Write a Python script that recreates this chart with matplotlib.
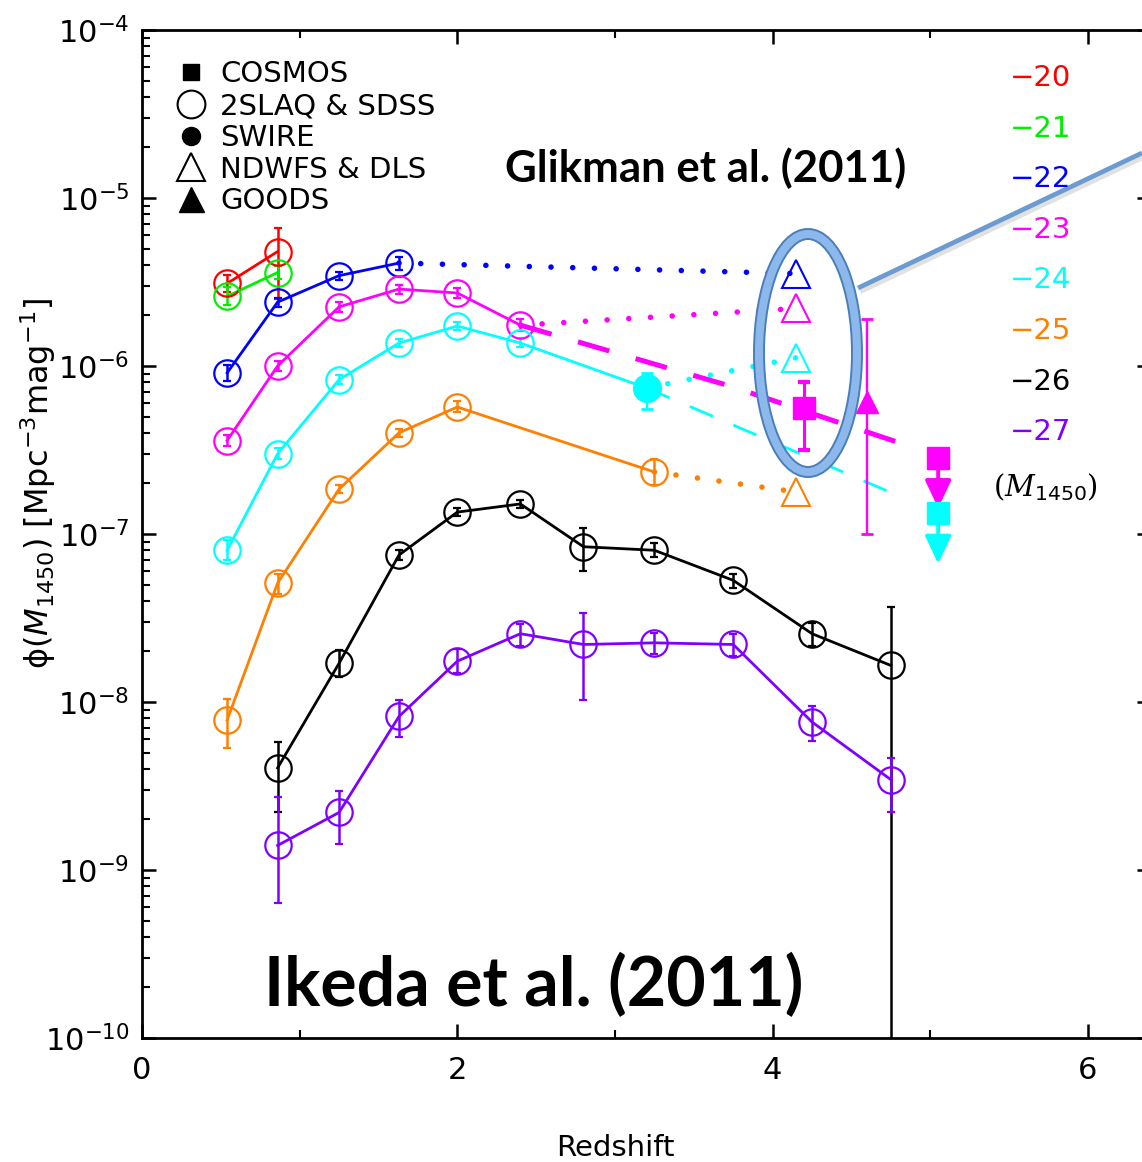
import numpy as np
import matplotlib
matplotlib.use("Agg")
import matplotlib.pyplot as plt
from matplotlib.lines import Line2D
from matplotlib.patches import Ellipse
from matplotlib.ticker import MultipleLocator, LogLocator, NullFormatter

# Ikeda et al. (2011) binned QSO luminosity function, one series per M1450
z_m20 = [0.54, 0.86]
phi_m20 = [3.1e-6, 4.8e-6]
lo_m20 = [2.75e-6, 2.5e-6]
hi_m20 = [3.5e-6, 6.6e-6]

z_m21 = [0.54, 0.86]
phi_m21 = [2.6e-6, 3.6e-6]
lo_m21 = [2.3e-6, 3.3e-6]
hi_m21 = [2.95e-6, 3.95e-6]

z_m22 = [0.54, 0.86, 1.25, 1.63]
phi_m22 = [9.1e-7, 2.4e-6, 3.45e-6, 4.1e-6]
lo_m22 = [8.1e-7, 2.25e-6, 3.25e-6, 3.75e-6]
hi_m22 = [1.02e-6, 2.55e-6, 3.65e-6, 4.45e-6]

z_m23 = [0.54, 0.86, 1.25, 1.63, 2.0, 2.4]
phi_m23 = [3.6e-7, 1.0e-6, 2.25e-6, 2.87e-6, 2.72e-6, 1.75e-6]
lo_m23 = [3.35e-7, 9.3e-7, 2.1e-6, 2.7e-6, 2.55e-6, 1.62e-6]
hi_m23 = [3.9e-7, 1.07e-6, 2.4e-6, 3.05e-6, 2.9e-6, 1.9e-6]

z_m24 = [0.54, 0.86, 1.25, 1.63, 2.0, 2.4]
phi_m24 = [8.0e-8, 3.0e-7, 8.3e-7, 1.37e-6, 1.73e-6, 1.37e-6]
lo_m24 = [7.0e-8, 2.8e-7, 7.8e-7, 1.3e-6, 1.64e-6, 1.29e-6]
hi_m24 = [9.2e-8, 3.25e-7, 8.8e-7, 1.45e-6, 1.83e-6, 1.46e-6]

z_m25 = [0.54, 0.86, 1.25, 1.63, 2.0, 3.25]
phi_m25 = [7.8e-9, 5.1e-8, 1.85e-7, 4.0e-7, 5.7e-7, 2.34e-7]
lo_m25 = [5.3e-9, 4.4e-8, 1.75e-7, 3.8e-7, 5.3e-7, 1.95e-7]
hi_m25 = [1.04e-8, 5.8e-8, 1.96e-7, 4.2e-7, 6.15e-7, 2.8e-7]

z_m26 = [0.86, 1.25, 1.63, 2.0, 2.4, 2.8, 3.25, 3.75, 4.25, 4.75]
phi_m26 = [4.05e-9, 1.7e-8, 7.5e-8, 1.35e-7, 1.51e-7, 8.4e-8, 8.0e-8, 5.3e-8, 2.55e-8, 1.65e-8]
lo_m26 = [2.2e-9, 1.41e-8, 7.0e-8, 1.28e-7, 1.43e-7, 6.0e-8, 7.3e-8, 4.8e-8, 2.15e-8, 1e-11]
hi_m26 = [5.8e-9, 2.04e-8, 8.0e-8, 1.43e-7, 1.6e-7, 1.09e-7, 8.8e-8, 5.8e-8, 2.95e-8, 3.67e-8]

z_m27 = [0.86, 1.25, 1.63, 2.0, 2.4, 2.8, 3.25, 3.75, 4.25, 4.75]
phi_m27 = [1.4e-9, 2.2e-9, 8.2e-9, 1.75e-8, 2.55e-8, 2.2e-8, 2.25e-8, 2.2e-8, 7.6e-9, 3.45e-9]
lo_m27 = [6.4e-10, 1.43e-9, 6.2e-9, 1.49e-8, 2.15e-8, 1.03e-8, 1.93e-8, 1.89e-8, 5.86e-9, 2.21e-9]
hi_m27 = [2.72e-9, 2.95e-9, 1.03e-8, 2.07e-8, 2.91e-8, 3.39e-8, 2.58e-8, 2.54e-8, 9.46e-9, 4.65e-9]

# NDWFS & DLS (open triangles) for M = -22, -23, -24, -25
z_ndwfs = 4.15
phi_ndwfs = [3.55e-6, 2.2e-6, 1.12e-6, 1.78e-7]

# SWIRE, M = -24
z_swire = 3.2
phi_swire = 7.4e-7
lo_swire = 5.55e-7
hi_swire = 9.1e-7

# COSMOS, M = -23 detection and upper limits for -23 / -24
z_cosmos = 4.2
phi_cosmos = 5.6e-7
lo_cosmos = 3.16e-7
hi_cosmos = 8.0e-7
z_cosmos_ul = 5.05
phi_cosmos_ul = [2.85e-7, 1.33e-7]

# GOODS, M = -23
z_goods = 4.6
phi_goods = 6.1e-7
lo_goods = 1.0e-7
hi_goods = 1.9e-6

# model curves (dashed)
z_model23 = [2.4, 3.73, 4.84]
phi_model23 = [1.75e-6, 7.6e-7, 3.4e-7]
z_model24 = [3.2, 4.83]
phi_model24 = [7.4e-7, 1.64e-7]

mag_labels = ["\u221220", "\u221221", "\u221222", "\u221223", "\u221224", "\u221225", "\u221226", "\u221227"]
colors = ["#ff0000", "#00ee00", "#0000ff", "#ff00ff", "#00ffff", "#ff8000", "#000000", "#8000ff"]

W, H = 1142, 1162
fig = plt.figure(figsize=(W / 100, H / 100), dpi=100)
ax = fig.add_axes([142 / W, 124 / H, 1009 / W, 1008 / H])
ax.set_yscale("log")
ax.set_xlim(0, 6.4)
ax.set_ylim(1e-10, 1e-4)


def draw_series(z, phi, lo, hi, color):
    phi = np.asarray(phi)
    yerr = [phi - np.asarray(lo), np.asarray(hi) - phi]
    ax.plot(z, phi, "-", color=color, lw=2.0, zorder=3)
    ax.errorbar(z, phi, yerr=yerr, fmt="o", mfc="none", mec=color, ms=19, mew=1.6,
                ecolor=color, elinewidth=1.8, capsize=3, capthick=2, zorder=4)


series = [
    (z_m20, phi_m20, lo_m20, hi_m20),
    (z_m21, phi_m21, lo_m21, hi_m21),
    (z_m22, phi_m22, lo_m22, hi_m22),
    (z_m23, phi_m23, lo_m23, hi_m23),
    (z_m24, phi_m24, lo_m24, hi_m24),
    (z_m25, phi_m25, lo_m25, hi_m25),
    (z_m26, phi_m26, lo_m26, hi_m26),
    (z_m27, phi_m27, lo_m27, hi_m27),
]
for (z, phi, lo, hi), c in zip(series, colors):
    draw_series(z, phi, lo, hi, c)

dot_style = dict(ls=(0, (0.01, 3.9)), lw=4.0, dash_capstyle="round", zorder=3)

# dotted links to the NDWFS points
starts = [(z_m22[-1], phi_m22[-1]), (z_m23[-1], phi_m23[-1]),
          (z_swire, phi_swire), (z_m25[-1], phi_m25[-1])]
for (z0, p0), p1, c in zip(starts, phi_ndwfs, [colors[2], colors[3], colors[4], colors[5]]):
    ax.plot([z0, z_ndwfs], [p0, p1], color=c, **dot_style)
    ax.plot(z_ndwfs, p1, "^", mfc="none", mec=c, ms=20, mew=1.5, zorder=5)

# cyan: Ikeda z=2.4 to SWIRE
ax.plot([z_m24[-1], z_swire], [phi_m24[-1], phi_swire], "-", color=colors[4], lw=2.0, zorder=3)
ax.errorbar(z_swire, phi_swire, yerr=[[phi_swire - lo_swire], [hi_swire - phi_swire]],
            fmt="o", color=colors[4], ms=20, elinewidth=1.7, capsize=4, capthick=2, zorder=5)

# dashed model curves
ax.plot(z_model23, phi_model23, color=colors[3], lw=3.6, ls=(0, (6.5, 5.5)), zorder=3)
ax.plot(z_model24, phi_model24, color=colors[4], lw=2.0, ls=(0, (9, 8)), zorder=3)

# COSMOS
ax.errorbar(z_cosmos, phi_cosmos, yerr=[[phi_cosmos - lo_cosmos], [hi_cosmos - phi_cosmos]],
            fmt="s", color=colors[3], ms=16.5, elinewidth=2.2, capsize=4, capthick=3, zorder=5)
for p, c in zip(phi_cosmos_ul, [colors[3], colors[4]]):
    ax.annotate("", xy=(z_cosmos_ul, p * 0.5), xytext=(z_cosmos_ul, p),
                arrowprops=dict(arrowstyle="-|>,head_length=0.85,head_width=0.4",
                                color=c, lw=2.8, mutation_scale=20, shrinkA=0, shrinkB=0),
                zorder=5)
    ax.plot(z_cosmos_ul, p, "s", color=c, ms=16.5, zorder=6)

# GOODS
ax.errorbar(z_goods, phi_goods, yerr=[[phi_goods - lo_goods], [hi_goods - phi_goods]],
            fmt="^", color=colors[3], ms=16, elinewidth=1.7, capsize=4, capthick=2, zorder=5)

# axes styling
ax.xaxis.set_major_locator(MultipleLocator(2))
ax.xaxis.set_minor_locator(MultipleLocator(1))
ax.yaxis.set_major_locator(LogLocator(base=10, numticks=20))
ax.yaxis.set_minor_locator(LogLocator(base=10, subs=np.arange(2, 10), numticks=20))
ax.yaxis.set_minor_formatter(NullFormatter())
ax.tick_params(which="both", direction="in", top=True, right=True, labelsize=22)
ax.tick_params(axis="x", pad=13)
ax.tick_params(axis="y", pad=9)
ax.tick_params(which="major", length=10, width=1.8)
ax.tick_params(which="minor", length=6, width=1.5)
for s in ax.spines.values():
    s.set_linewidth(2.0)

ax.set_xlabel("Redshift", fontsize=21)
ax.xaxis.set_label_coords(0.469, -0.095)
ax.set_ylabel(r"$\mathrm{\phi}(\mathit{M}_{1450})$ [Mpc$^{-3}$mag$^{-1}$]", fontsize=23)
ax.yaxis.set_label_coords(-0.083, 0.55)

# survey legend
handles = [
    Line2D([], [], ls="none", marker="s", color="k", ms=11),
    Line2D([], [], ls="none", marker="o", mfc="none", mec="k", ms=20, mew=1.5),
    Line2D([], [], ls="none", marker="o", color="k", ms=13),
    Line2D([], [], ls="none", marker="^", mfc="none", mec="k", ms=20, mew=1.5),
    Line2D([], [], ls="none", marker="^", color="k", ms=18),
]
labels = ["COSMOS", "2SLAQ & SDSS", "SWIRE", "NDWFS & DLS", "GOODS"]
ax.legend(handles, labels, loc="upper left", bbox_to_anchor=(0.034, 0.97), frameon=False,
          fontsize=21, handlelength=1.0, handletextpad=0.5, labelspacing=0.13,
          borderpad=0, borderaxespad=0)

# overlay for annotations in pixel space
ov = fig.add_axes([0, 0, 1, 1], zorder=10)
ov.set_xlim(0, W)
ov.set_ylim(H, 0)
ov.axis("off")
ov.patch.set_alpha(0)

for i, (lab, c) in enumerate(zip(mag_labels, colors)):
    ov.text(1010, 78 + 50.6 * i, lab, color=c, fontsize=21, ha="left", va="center")
ov.text(993, 487, r"$(\mathit{M}_{\mathsf{1450}})$", fontsize=21, ha="left", va="center",
        math_fontfamily="dejavuserif", fontweight="bold")

ov.text(706, 168, "Glikman et al. (2011)", fontsize=31.5, fontweight="bold",
        family="Lato", ha="center", va="center")
ov.text(534, 985, "Ikeda et al. (2011)", fontsize=49, fontweight="bold",
        family="Lato", ha="center", va="center")

ov.plot([860, 1142], [291, 157], color="#888888", lw=4.5, alpha=0.25, solid_capstyle="butt")
ov.plot([858, 1142], [288, 153], color="#6c9bd2", lw=3.4, solid_capstyle="butt")
ov.add_patch(Ellipse((808, 353), 98, 238, fill=False, ec="#4a7ebb", lw=8.6))
ov.add_patch(Ellipse((808, 353), 98, 238, fill=False, ec="#8db8ec", lw=5.8))

fig.savefig("out.png", dpi=100)
